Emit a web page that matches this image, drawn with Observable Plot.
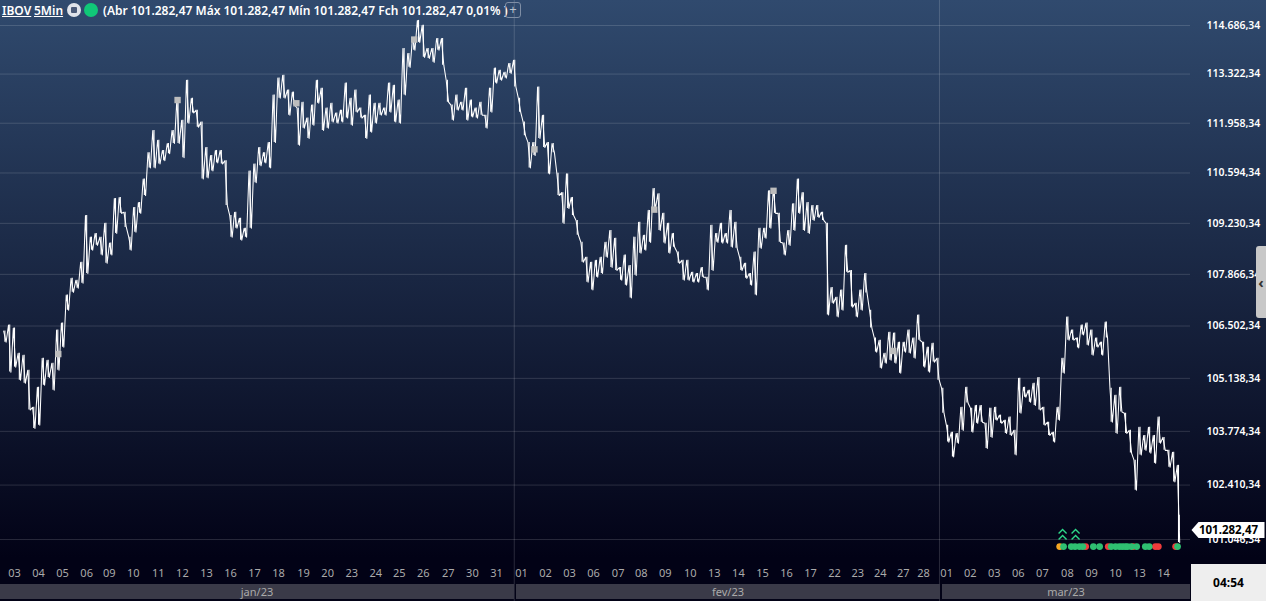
<!DOCTYPE html>
<html lang="pt-BR">
<head>
<meta charset="utf-8">
<script src="https://cdn.jsdelivr.net/npm/d3@7"></script>
<script src="https://cdn.jsdelivr.net/npm/@observablehq/plot@0.6"></script>
<style>
html,body{margin:0;padding:0;background:#020216;overflow:hidden}
#stage{position:relative;width:1266px;height:601px;overflow:hidden;background:linear-gradient(#304a6e 0,#020216 558px,#020216 100%);font-family:"Noto Sans",sans-serif}
#stage svg{position:absolute;left:0;top:0;display:block}
.head{position:absolute;top:2px;height:17px;line-height:17px;color:#fff;font-size:12px;font-weight:600;white-space:nowrap}
.u{text-decoration:underline}
.month{position:absolute;top:584px;height:15px;line-height:15px;background:#3a3a48;color:#aaa;font-size:11px;text-align:center}
#clock{position:absolute;left:1191px;top:564px;width:75px;height:37px;line-height:38px;background:#eee;color:#000;font-size:12px;font-weight:700;text-align:center}
#handle{position:absolute;left:1256px;top:246px;width:10px;height:72px;line-height:72px;background:#c8c8c8;border-radius:3px 0 0 3px;color:#333;font-size:15px;font-weight:700;text-align:center}
#ico{position:absolute;left:67px;top:3px;width:14px;height:14px;border-radius:50%;background:#dfe3ea}
#ico:after{content:"";position:absolute;left:4px;top:4px;width:6px;height:6px;background:#4a5a78;border-radius:1px}
#dot{position:absolute;left:84px;top:3px;width:14px;height:14px;border-radius:50%;background:#10c878}
#plus{position:absolute;left:505px;top:2px;width:14px;height:14px;line-height:13px;border:1px solid #7f8ea5;border-radius:3px;color:#b8c2d0;font-size:13px;text-align:center}
</style>
</head>
<body>
<div id="stage"></div>
<script>
const highs=[106370,106530,106450,105790,105740,105350,104390,104910,105660,105610,105530,106400,106580,107320,107760,107710,108190,109440,108860,108960,108860,109230,108700,109900,109930,109530,108860,109660,109790,110430,111150,111760,111490,111210,111400,111760,112600,112040,113150,112650,112320,111990,111290,111070,111210,111210,110930,109440,109530,109370,109100,110650,110840,111290,111150,111430,112740,113210,113290,112880,112820,112380,112540,112100,112460,113150,112930,112380,112510,112240,112320,113070,112650,112880,112380,112180,112740,112510,112510,112380,113070,113010,112600,114040,113900,114350,114830,114690,114040,114040,114320,114320,113150,112460,112740,112540,112930,112600,112380,112540,112180,112930,113490,113430,113370,113620,113710,112650,111990,111430,111430,112960,112180,111430,111400,110590,110060,110570,109930,109310,108720,108320,108190,108240,108320,108720,109040,108830,108050,108380,108100,108860,109260,108910,109580,110170,110030,109500,109230,108960,108460,108240,108240,107920,107890,108050,107790,109180,108960,109230,108960,109580,109260,108320,108160,107890,108460,109100,109100,110110,110170,109500,108700,109040,109760,110430,110060,109790,109710,109710,109530,109230,107520,107260,107450,108640,107970,107100,107450,107890,106920,106190,106130,105790,106340,106320,106080,106080,106400,106190,106790,106080,105950,106050,105660,104880,103930,103750,103720,104390,104910,104370,104440,104440,103980,104370,104390,104190,104060,104140,103800,105140,104910,104830,105010,105160,104390,104010,103750,104390,105660,106740,106400,106190,106530,106580,106400,106190,106080,106610,104880,104700,104910,104240,103800,103040,103880,103670,103880,103670,104140,103620,103290,103240,102910];
const lows=[106080,105300,105430,105090,105010,104320,103850,103930,104960,105160,104830,105350,105950,106920,107390,107500,107630,107890,108510,108640,108380,108160,108380,108960,109500,109120,108510,108990,109500,109980,110730,110730,110840,110930,111120,111400,111400,111010,111960,112240,111850,110430,110460,110650,110870,110840,109710,108860,109100,108780,108860,109100,110330,110790,110870,110730,111430,112650,112650,112180,112460,111350,111820,111540,111900,112510,111760,111820,111990,111960,111990,112100,111900,112260,112100,111540,111710,111960,112180,112180,112260,111990,111960,112740,113510,113990,114210,113790,113760,113650,113990,113570,112540,112040,112320,112320,112040,112130,112100,112180,111820,112260,113070,113150,113210,113340,112960,112260,111610,110730,111070,111540,111290,110570,111150,109980,109230,109630,109440,108910,108190,107660,107450,107790,107890,108320,108050,107970,107710,107580,107240,107840,108430,108510,108720,109630,109040,108700,108430,108590,108160,107710,107710,107660,107660,107790,107450,107970,108720,108700,108700,108590,108560,107970,107760,107580,107320,108560,108830,109100,109500,108720,108380,108640,109040,109500,109040,108960,109310,109390,109310,106790,107100,106740,106920,107920,107000,106740,106920,107370,106450,105820,105400,105530,105610,105530,105270,105820,105790,105660,106130,105430,105300,105560,105090,104240,103500,103120,103470,103800,104500,103750,103980,104010,103340,103620,104060,103980,103720,103670,103170,104240,104650,104520,104440,104320,103930,103670,103500,104060,105270,106130,106130,105930,106270,106000,105740,105950,105740,106190,104010,103720,104270,103720,103220,102280,103170,103290,103220,102960,103470,103290,102860,102490,100970];
const lastBar=[101650,101270];
const gridPrices=[114686.34,113322.34,111958.34,110594.34,109230.34,107866.34,106502.34,105138.34,103774.34,102410.34,101046.34];
const gridLabels=["114.686,34","113.322,34","111.958,34","110.594,34","109.230,34","107.866,34","106.502,34","105.138,34","103.774,34","102.410,34","101.046,34"];
const dayLabels=["03","04","05","06","09","10","11","12","13","16","17","18","19","20","23","24","25","26","27","30","31","01","02","03","06","07","08","09","10","13","14","15","16","17","22","23","24","27","28","01","02","03","06","07","08","09","10","13","14"];
const dayCols=[2,7,12,17,21.7,26.7,31.9,36.9,41.9,46.9,51.9,56.9,62.1,67.1,72.1,77.1,82,87,92.2,97.2,102.2,107.4,112.4,117.4,122.4,127.5,132.3,137.3,142.5,147.5,152.5,157.5,162.5,167.5,172.5,177.3,182,186.8,191,195.8,200.7,205.7,210.7,215.7,220.9,225.9,230.9,235.9,240.9];
const monthCols=[105.9,194.3];
const squareCols=[11.1,35.9,60.6,85.1,110.1,135,159.8,184.7];
const squarePrices=[105770,112600,112510,114290,111240,109600,110110,105850];
const signalCols=[219.3,224.7,229.4,234.6,239.2,239.8,243.4,220.1,221.7,222.5,223.4,224.1,226.3,227.6,230,230.9,231.7,232.3,232.9,233.4,234.2,235.3,237.1,237.9,243.8];
const signalColors=["#f5a623","#ef3b3b","#ef3b3b","#ef3b3b","#ef3b3b","#ef3b3b","#ef3b3b","#2fbf71","#2fbf71","#2fbf71","#2fbf71","#2fbf71","#2fbf71","#2fbf71","#2fbf71","#2fbf71","#2fbf71","#2fbf71","#2fbf71","#2fbf71","#2fbf71","#2fbf71","#2fbf71","#2fbf71","#2fbf71"];
const signalPrice=100870;
const chevronCols=[219.9,222.6];
const chevronPrice=101145;
const closePrice=101282.47;
const closeLabel="101.282,47";

const head=(l,t,cls="")=>`<div class="head ${cls}" style="left:${l}px">${t}</div>`;
const stage=document.getElementById("stage");
const zig=highs.flatMap((h,k)=>[{x:k-.25,p:h},{x:k+.25,p:lows[k]}]);
const gridText=new Map(gridPrices.map((p,i)=>[p,gridLabels[i]]));
const dayText=new Map(dayCols.map((c,i)=>[c,dayLabels[i]]));
const chevron={draw(c){for(const o of [-5,1]){c.moveTo(-4,o+3);c.lineTo(0,o-1);c.lineTo(4,o+3);}}};
const tag={draw(c){c.moveTo(-37,0);c.lineTo(-30,-8);c.lineTo(36,-8);c.lineTo(36,8);c.lineTo(-30,8);c.closePath();}};
const signals=signalCols.map((x,i)=>({x,c:signalColors[i]}));

const chart=Plot.plot({
  width:1266,height:601,marginLeft:0,marginRight:76,marginTop:0,marginBottom:28,
  style:{background:"transparent",fontFamily:"'Noto Sans',sans-serif"},
  x:{type:"linear",domain:[0,244],range:[4.4,1178],axis:null},
  y:{type:"log",domain:[101046.34,114686.34],range:[539,25],axis:null},
  marks:[
    Plot.ruleY(gridPrices,{stroke:"#fff",strokeOpacity:.14}),
    Plot.ruleX(monthCols,{stroke:"#fff",strokeOpacity:.16,y1:98950,y2:116200,clip:false}),
    Plot.line(zig,{x:"x",y:"p",stroke:"#fff",strokeWidth:1.05}),
    Plot.ruleX(highs.map((h,k)=>k),{y1:k=>highs[k],y2:k=>lows[k],stroke:"#fff",strokeWidth:1.1}),
    Plot.ruleX([244.1],{y1:lastBar[0],y2:lastBar[1],stroke:"#fff",strokeWidth:1.6}),
    Plot.dot(squareCols.map((x,i)=>({x,p:squarePrices[i]})),{x:"x",y:"p",symbol:"square",r:3.6,fill:"#bdbdbd",stroke:"none"}),
    Plot.dot(signals,{x:"x",y:()=>signalPrice,fill:"c",stroke:"none",r:3.4}),
    Plot.dot(chevronCols,{x:d=>d,y:()=>chevronPrice,symbol:chevron,stroke:"#2ed889",fill:"none",strokeWidth:1.4,r:5}),
    Plot.axisX({ticks:dayCols,tickFormat:d=>dayText.get(d),anchor:"bottom",tickSize:0,tickPadding:-4,fill:"#aaa",fontSize:11,label:null,textStroke:"none"}),
    Plot.axisY({ticks:gridPrices,tickFormat:d=>gridText.get(d),anchor:"right",tickSize:0,tickPadding:16,fill:"#fff",fontSize:10.5,fontWeight:600,label:null,textAnchor:"start"}),
    Plot.dot([closePrice],{x:()=>244,y:d=>d,dx:50,symbol:tag,fill:"#fff",stroke:"none",r:5,clip:false}),
    Plot.text([closeLabel],{x:()=>244,y:()=>closePrice,dx:50,text:d=>d,fill:"#000",fontSize:11.5,fontWeight:700,clip:false})
  ]
});
stage.appendChild(chart);
stage.insertAdjacentHTML("beforeend",
  head(2,"IBOV","u")+head(34,"5Min","u")+
  `<div id="ico"></div><div id="dot"></div>`+
  head(103,"(Abr 101.282,47 Máx 101.282,47 Mín 101.282,47 Fch 101.282,47 0,01% )")+
  `<div id="plus">+</div>`+
  `<div class="month" style="left:0;width:514px">jan/23</div>`+
  `<div class="month" style="left:516px;width:424px">fev/23</div>`+
  `<div class="month" style="left:942px;width:248px">mar/23</div>`+
  `<div id="clock">04:54</div><div id="handle">‹</div>`);
</script>
</body>
</html>
